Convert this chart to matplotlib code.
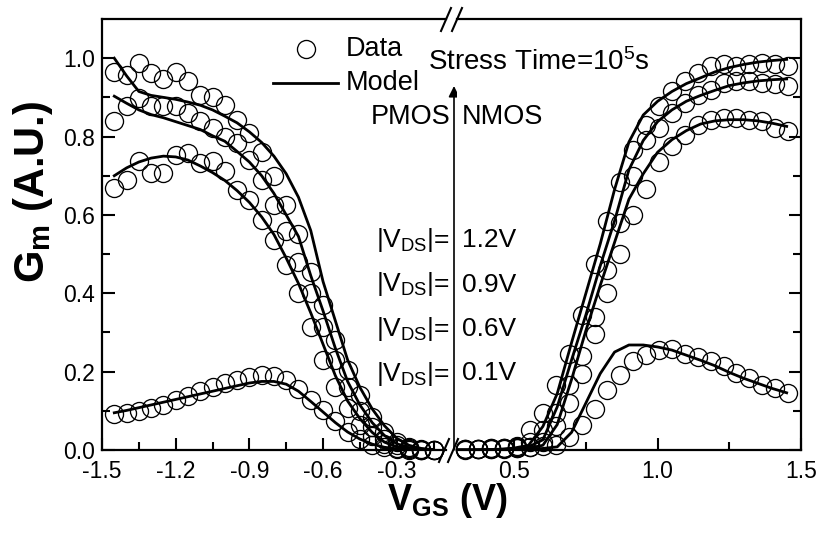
import matplotlib
matplotlib.use('Agg')
import matplotlib.pyplot as plt
from matplotlib.lines import Line2D

plt.rcParams['font.family'] = ['Liberation Sans', 'DejaVu Sans']
plt.rcParams['mathtext.fontset'] = 'custom'
plt.rcParams['mathtext.rm'] = 'Liberation Sans'
plt.rcParams['mathtext.it'] = 'Liberation Sans'
plt.rcParams['mathtext.bf'] = 'Liberation Sans:bold'
plt.rcParams['axes.unicode_minus'] = False

# ---- PMOS side (negative VGS) ----
vgs_p = [-1.45, -1.40, -1.35, -1.30, -1.25, -1.20, -1.15, -1.10, -1.05, -1.00,
         -0.95, -0.90, -0.85, -0.80, -0.75, -0.70, -0.65, -0.60, -0.55, -0.50,
         -0.45, -0.40, -0.35, -0.30, -0.25, -0.20, -0.15]

p_data_12 = [0.965, 0.958, 0.988, 0.963, 0.946, 0.966, 0.943, 0.905, 0.902, 0.880,
             0.843, 0.808, 0.760, 0.700, 0.625, 0.550, 0.455, 0.370, 0.280, 0.205,
             0.140, 0.085, 0.045, 0.020, 0.008, 0.003, 0.001]
p_data_09 = [0.839, 0.877, 0.899, 0.879, 0.877, 0.879, 0.860, 0.839, 0.822, 0.800,
             0.784, 0.741, 0.690, 0.625, 0.560, 0.480, 0.400, 0.315, 0.230, 0.160,
             0.100, 0.058, 0.028, 0.012, 0.004, 0.001, 0.000]
p_data_06 = [0.669, 0.690, 0.737, 0.707, 0.707, 0.754, 0.758, 0.733, 0.737, 0.711,
             0.664, 0.639, 0.588, 0.537, 0.473, 0.400, 0.315, 0.230, 0.160, 0.108,
             0.065, 0.035, 0.016, 0.006, 0.002, 0.001, 0.000]
p_data_01 = [0.092, 0.095, 0.100, 0.106, 0.116, 0.128, 0.137, 0.150, 0.160, 0.170,
             0.178, 0.186, 0.192, 0.188, 0.178, 0.155, 0.128, 0.102, 0.074, 0.045,
             0.027, 0.014, 0.007, 0.003, 0.001, 0.000, 0.000]

p_model_12 = [1.000, 0.955, 0.915, 0.905, 0.900, 0.895, 0.888, 0.880, 0.868, 0.852,
              0.835, 0.812, 0.785, 0.750, 0.705, 0.645, 0.560, 0.430, 0.330, 0.230,
              0.160, 0.105, 0.062, 0.030, 0.012, 0.004, 0.001]
p_model_09 = [0.903, 0.885, 0.868, 0.856, 0.848, 0.838, 0.828, 0.818, 0.802, 0.788,
              0.762, 0.735, 0.700, 0.655, 0.600, 0.545, 0.445, 0.355, 0.260, 0.175,
              0.115, 0.070, 0.037, 0.016, 0.006, 0.002, 0.001]
p_model_06 = [0.700, 0.720, 0.735, 0.745, 0.750, 0.748, 0.740, 0.725, 0.708, 0.688,
              0.662, 0.632, 0.595, 0.550, 0.490, 0.425, 0.350, 0.270, 0.190, 0.125,
              0.080, 0.045, 0.020, 0.008, 0.003, 0.001, 0.000]
p_model_01 = [0.095, 0.101, 0.108, 0.115, 0.122, 0.129, 0.136, 0.143, 0.150, 0.157,
              0.164, 0.171, 0.175, 0.175, 0.168, 0.150, 0.124, 0.097, 0.070, 0.046,
              0.028, 0.015, 0.007, 0.003, 0.001, 0.000, 0.000]

# ---- NMOS side (positive VGS) ----
vgs_n = [0.33, 0.375, 0.42, 0.465, 0.51, 0.555, 0.60, 0.645, 0.69, 0.735,
         0.78, 0.825, 0.87, 0.915, 0.96, 1.005, 1.05, 1.095, 1.14, 1.185,
         1.23, 1.275, 1.32, 1.365, 1.41, 1.455]

n_data_12 = [0.002, 0.003, 0.004, 0.006, 0.010, 0.050, 0.095, 0.165, 0.245, 0.345,
             0.475, 0.585, 0.685, 0.765, 0.830, 0.877, 0.915, 0.941, 0.963, 0.980,
             0.984, 0.981, 0.984, 0.988, 0.984, 0.980]
n_data_09 = [0.002, 0.003, 0.004, 0.005, 0.008, 0.020, 0.050, 0.095, 0.165, 0.240,
             0.340, 0.460, 0.580, 0.700, 0.790, 0.822, 0.860, 0.886, 0.907, 0.920,
             0.937, 0.941, 0.941, 0.937, 0.933, 0.928]
n_data_06 = [0.001, 0.002, 0.002, 0.003, 0.004, 0.008, 0.020, 0.060, 0.120, 0.195,
             0.295, 0.400, 0.500, 0.600, 0.665, 0.735, 0.775, 0.805, 0.830, 0.843,
             0.848, 0.848, 0.843, 0.839, 0.822, 0.813]
n_data_01 = [0.003, 0.003, 0.003, 0.004, 0.006, 0.008, 0.010, 0.014, 0.032, 0.065,
             0.105, 0.152, 0.192, 0.226, 0.243, 0.255, 0.257, 0.246, 0.238, 0.228,
             0.214, 0.197, 0.184, 0.167, 0.158, 0.146]

vgs_n_model = [0.30, 0.35, 0.40, 0.45, 0.50, 0.55, 0.60, 0.65, 0.70, 0.75,
               0.80, 0.85, 0.90, 0.95, 1.00, 1.05, 1.10, 1.15, 1.20, 1.25,
               1.30, 1.35, 1.40, 1.45]
n_model_12 = [0.000, 0.000, 0.001, 0.002, 0.005, 0.012, 0.060, 0.144, 0.274, 0.400,
              0.526, 0.665, 0.786, 0.855, 0.890, 0.915, 0.935, 0.950, 0.965, 0.976,
              0.984, 0.990, 0.994, 0.997]
n_model_09 = [0.000, 0.000, 0.000, 0.001, 0.003, 0.008, 0.026, 0.110, 0.230, 0.345,
              0.470, 0.585, 0.715, 0.790, 0.838, 0.868, 0.890, 0.905, 0.918, 0.930,
              0.937, 0.942, 0.945, 0.947]
n_model_06 = [0.000, 0.000, 0.000, 0.001, 0.002, 0.005, 0.012, 0.065, 0.180, 0.305,
              0.420, 0.530, 0.640, 0.705, 0.760, 0.792, 0.815, 0.832, 0.840, 0.843,
              0.843, 0.840, 0.834, 0.826]
n_model_01 = [0.000, 0.000, 0.000, 0.000, 0.001, 0.002, 0.004, 0.008, 0.045, 0.120,
              0.195, 0.250, 0.268, 0.268, 0.263, 0.255, 0.242, 0.229, 0.215, 0.198,
              0.183, 0.170, 0.157, 0.146]

vds_labels = ['1.2V', '0.9V', '0.6V', '0.1V']

W, H = 821, 536


def fx(px):
    return px / W


def fy(py):
    return 1 - py / H


fig = plt.figure(figsize=(8.21, 5.36), dpi=100)
ax1 = fig.add_axes([fx(102), fy(450), (446 - 102) / W, (450 - 19) / H])
ax2 = fig.add_axes([fx(457), fy(450), (801 - 457) / W, (450 - 19) / H])

mk = dict(marker='o', ms=13, mfc='none', mec='k', mew=0.95, ls='none', clip_on=False)
ln = dict(color='k', lw=2.0)

for d in (p_data_12, p_data_09, p_data_06, p_data_01):
    ax1.plot(vgs_p, d, **mk)
for m in (p_model_12, p_model_09, p_model_06, p_model_01):
    ax1.plot(vgs_p, m, **ln)
for d in (n_data_12, n_data_09, n_data_06, n_data_01):
    ax2.plot(vgs_n, d, **mk)
for m in (n_model_12, n_model_09, n_model_06, n_model_01):
    ax2.plot(vgs_n_model, m, **ln)

ax1.set_xlim(-1.5, -1.5 + (446 - 102) / 245.6)
ax2.set_xlim(1.5 - (801 - 457) / 286.8, 1.5)
for ax in (ax1, ax2):
    ax.set_ylim(0, 1.1)
    ax.set_yticks([0.0, 0.2, 0.4, 0.6, 0.8, 1.0])
    ax.set_yticks([0.1, 0.3, 0.5, 0.7, 0.9], minor=True)
    for s in ax.spines.values():
        s.set_linewidth(1.6)
    ax.tick_params(which='both', direction='in', width=1.5, labelsize=16.5)
    ax.tick_params(which='major', length=9, pad=7)
    ax.tick_params(which='minor', length=5.5)

ax1.spines['right'].set_visible(False)
ax2.spines['left'].set_visible(False)
ax1.set_xticks([-1.5, -1.2, -0.9, -0.6, -0.3])
ax1.set_xticks([-1.35, -1.05, -0.75, -0.45, -0.15], minor=True)
ax1.tick_params(axis='y', which='both', left=True, right=False, pad=5)
ax2.set_xticks([0.5, 1.0, 1.5])
ax2.set_xticks([0.75, 1.25], minor=True)
ax2.tick_params(axis='y', which='both', left=False, right=True,
                labelleft=False, labelright=False)

# axis break marks
for (x0, y0, x1, y1) in [(441, 31, 451, 8), (452, 31, 462, 8),
                         (439, 462, 449, 439), (448, 462, 458, 439)]:
    fig.add_artist(Line2D([fx(x0), fx(x1)], [fy(y0), fy(y1)], color='k', lw=1.5))

# legend
fig.add_artist(Line2D([fx(306)], [fy(49)], **mk))
fig.add_artist(Line2D([fx(273), fx(338)], [fy(83), fy(83)], **ln))
fig.text(fx(346), fy(49), 'Data', fontsize=19.5, va='center', ha='left')
fig.text(fx(346), fy(83), 'Model', fontsize=19.5, va='center', ha='left')

fig.text(fx(428), fy(62), r'Stress Time=10$^5$s', fontsize=20, va='center', ha='left')

# vertical arrow
ax1.annotate('', xy=(454, H - 86), xytext=(454, H - 450),
             xycoords='figure pixels', textcoords='figure pixels',
             arrowprops=dict(arrowstyle='-|>', color='k', lw=1.2,
                             mutation_scale=16, shrinkA=0, shrinkB=0))

fig.text(fx(450), fy(117), 'PMOS', fontsize=19.5, va='center', ha='right')
fig.text(fx(462), fy(117), 'NMOS', fontsize=19.5, va='center', ha='left')

for i, lab in enumerate(vds_labels):
    yy = 240 + 44.5 * i
    fig.text(fx(450), fy(yy), r'$|V_{DS}|$=', fontsize=19, va='center', ha='right')
    fig.text(fx(462), fy(yy), lab, fontsize=19, va='center', ha='left')

fig.text(fx(447), fy(500), r'$\mathbf{V_{GS}}$ (V)', fontsize=26, fontweight='bold',
         ha='center', va='center')
fig.text(fx(33), fy(192), r'$\mathbf{G_m}$ (A.U.)', fontsize=30, fontweight='bold',
         ha='center', va='center', rotation=90)

fig.savefig('out.png', dpi=100)
